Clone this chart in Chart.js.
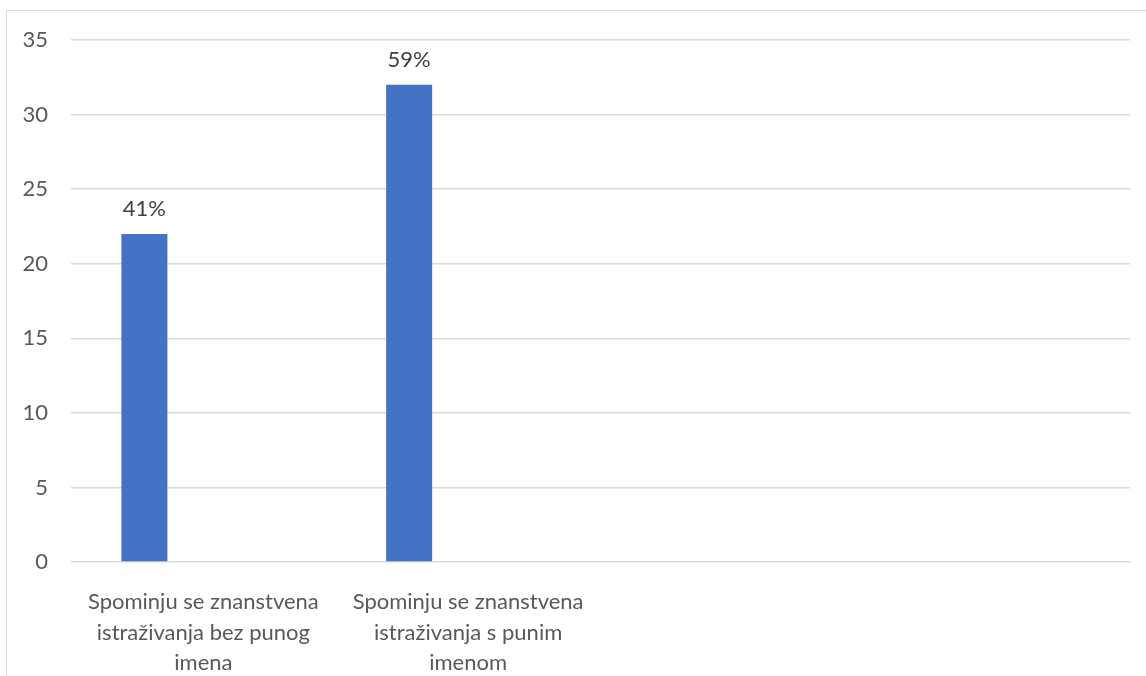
<!DOCTYPE html>
<html>
<head>
<meta charset="utf-8">
<script src="https://cdn.jsdelivr.net/npm/chart.js@4"></script>
<style>
  html, body { margin: 0; padding: 0; background: #fff; overflow: hidden; }
  #frame { position: absolute; left: 6px; top: 10px; width: 1200px; height: 700px;
           border-left: 1px solid #d9d9d9; border-top: 1px solid #d9d9d9; }
  #wrap { position: absolute; left: 0; top: 0; width: 1146px; height: 676px; }
</style>
</head>
<body>
<div id="frame"></div>
<div id="wrap"><canvas id="chart"></canvas></div>
<script>
// categories (last two are empty slots in the original chart)
const categories = [
  ['Spominju se znanstvena', 'istraživanja bez punog', 'imena'],
  ['Spominju se znanstvena', 'istraživanja s punim', 'imenom'],
  '',
  ''
];
const counts = [22, 32, null, null];
const emptySeries = [null, null, null, null];
const pctLabels = ['41%', '59%', '', ''];
const yTicks = { min: 0, max: 35, step: 5 };

const FONT = 'Lato, "Open Sans", sans-serif';

// draws the percentage above each bar
const pctPlugin = {
  id: 'pctLabels',
  afterDatasetsDraw(chart) {
    const ctx = chart.ctx;
    const meta = chart.getDatasetMeta(0);
    ctx.save();
    ctx.font = '22px ' + FONT;
    ctx.fillStyle = '#404040';
    ctx.textAlign = 'center';
    ctx.textBaseline = 'alphabetic';
    meta.data.forEach((bar, i) => {
      if (counts[i] == null) return;
      ctx.fillText(pctLabels[i], bar.x, bar.y - 18);
    });
    ctx.restore();
  }
};

new Chart(document.getElementById('chart'), {
  type: 'bar',
  data: {
    labels: categories,
    datasets: [
      {
        label: 'Broj',
        data: counts,
        backgroundColor: '#4472c4',
        barPercentage: 0.39,
        categoryPercentage: 0.891,
      },
      {
        label: '',
        data: emptySeries,
        backgroundColor: '#ed7d31',
        barPercentage: 0.39,
        categoryPercentage: 0.891,
      },
    ],
  },
  options: {
    responsive: true,
    maintainAspectRatio: false,
    animation: false,
    layout: { padding: { left: 7, right: 16, top: 40, bottom: 0 } },
    plugins: { legend: { display: false }, tooltip: { enabled: false } },
    scales: {
      x: {
        grid: { display: false, drawTicks: false },
        border: { display: false },
        ticks: {
          color: '#595959',
          padding: 25,
          maxRotation: 0,
          autoSkip: false,
          font: { family: FONT, size: 22, lineHeight: 1.38 },
        },
        afterFit: s => { s.height = 114; },
      },
      y: {
        min: yTicks.min,
        max: yTicks.max,
        grid: { color: '#d9d9d9', lineWidth: 1.5, drawTicks: false },
        border: { display: false },
        ticks: {
          stepSize: yTicks.step,
          color: '#595959',
          padding: 23,
          font: { family: FONT, size: 22 },
        },
        afterFit: s => { s.width = 64; },
      },
    },
  },
  plugins: [pctPlugin],
});
</script>
</body>
</html>
